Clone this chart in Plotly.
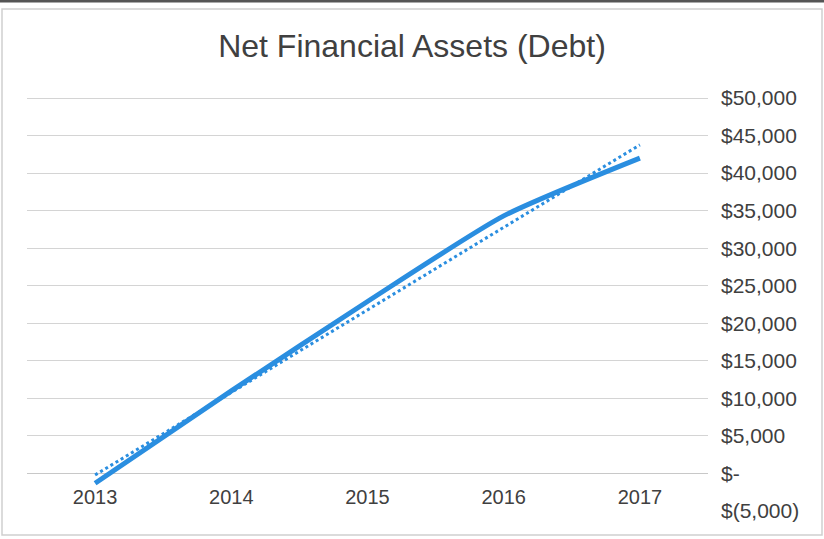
import plotly.graph_objects as go
import numpy as np

years = ["2013", "2014", "2015", "2016", "2017"]
net_assets = [-1300, 11000, 22900, 34300, 42000]
tick_vals = [-5000, 0, 5000, 10000, 15000, 20000, 25000, 30000, 35000, 40000, 45000, 50000]
tick_text = ["$(5,000)", "$-", "$5,000", "$10,000", "$15,000", "$20,000", "$25,000",
             "$30,000", "$35,000", "$40,000", "$45,000", "$50,000"]
title_text = "Net Financial Assets (Debt)"

W, H = 824, 539
L, R, T, B = 27, 116, 95, 27
ymin, ymax = -5133, 50400

blue = "#2a8ee0"

idx = np.arange(len(years))
coef = np.polyfit(idx, net_assets, 1)
trend = np.polyval(coef, idx)

fig = go.Figure()
fig.add_trace(go.Scatter(x=years, y=net_assets, mode="lines",
                         line=dict(color=blue, width=5, shape="spline", smoothing=0.6),
                         showlegend=False, hoverinfo="skip"))
fig.add_trace(go.Scatter(x=years, y=trend, mode="lines",
                         line=dict(color=blue, width=3, dash="dot"),
                         showlegend=False, hoverinfo="skip"))

zero_pos = (0 - ymin) / (ymax - ymin)
PW, PH = W - L - R, H - T - B

fig.update_layout(
    width=W, height=H,
    margin=dict(l=L, r=R, t=T, b=B),
    paper_bgcolor="white", plot_bgcolor="white",
    font=dict(family="Liberation Sans, Arial, sans-serif", color="#404040"),
    title=dict(text=title_text, x=0.5, xref="container", xanchor="center",
               y=1 - 46 / H, yref="container", yanchor="middle",
               font=dict(size=32, color="#404040")),
    xaxis=dict(type="category", range=[-0.5, 4.5], showgrid=False,
               anchor="free", position=zero_pos, showline=False,
               ticks="", ticklabelstandoff=10,
               tickfont=dict(size=20, color="#404040"), zeroline=False),
    yaxis=dict(range=[ymin, ymax], side="right", tickvals=tick_vals, ticktext=tick_text,
               showgrid=True, gridcolor="#d4d4d4", gridwidth=1,
               zeroline=True, zerolinecolor="#c8c8c8", zerolinewidth=1,
               showline=False, ticks="", ticklabelstandoff=12,
               tickfont=dict(size=21, color="#404040")),
    shapes=[
        dict(type="rect", xref="paper", yref="paper", x0=-(L - 2) / PW,
             x1=1 + (R - 2) / PW, y0=-(B - 4) / PH, y1=1 + (T - 9) / PH,
             line=dict(color="#cfcfcf", width=1.5)),
        dict(type="line", xref="paper", yref="paper", x0=-L / PW,
             x1=1 + R / PW, y0=1 + (T - 1) / PH, y1=1 + (T - 1) / PH,
             line=dict(color="#555555", width=3)),
    ],
)

fig.write_html("out.html")
